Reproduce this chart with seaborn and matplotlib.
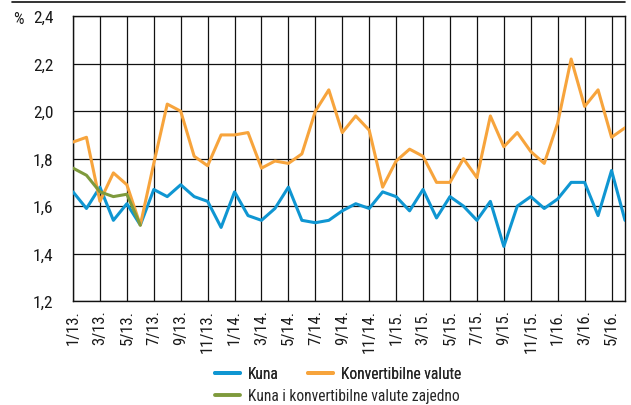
import numpy as np
import pandas as pd
import matplotlib
matplotlib.use("Agg")
import matplotlib.pyplot as plt
from matplotlib.lines import Line2D
from matplotlib import font_manager
import seaborn as sns

# Monthly series, January 2013 - June 2016
months = [f"{m}/{y}." for y in (13, 14, 15, 16) for m in range(1, 13)][:42]

kuna = [1.66, 1.59, 1.68, 1.54, 1.61, 1.52, 1.67, 1.64, 1.69, 1.64,
        1.62, 1.51, 1.66, 1.56, 1.54, 1.59, 1.68, 1.54, 1.53, 1.54,
        1.58, 1.61, 1.59, 1.66, 1.64, 1.58, 1.67, 1.55, 1.64, 1.60,
        1.54, 1.62, 1.43, 1.60, 1.64, 1.59, 1.63, 1.70, 1.70, 1.56,
        1.75, 1.54]

konvertibilne = [1.87, 1.89, 1.62, 1.74, 1.69, 1.52, 1.78, 2.03, 2.00, 1.81,
                 1.77, 1.90, 1.90, 1.91, 1.76, 1.79, 1.78, 1.82, 2.00, 2.09,
                 1.91, 1.98, 1.92, 1.68, 1.79, 1.84, 1.81, 1.70, 1.70, 1.80,
                 1.72, 1.98, 1.85, 1.91, 1.83, 1.78, 1.95, 2.22, 2.02, 2.09,
                 1.89, 1.93]

zajedno = [1.76, 1.73, 1.66, 1.64, 1.65, 1.52]

series_names = ["Kuna", "Konvertibilne valute", "Kuna i konvertibilne valute zajedno"]
palette = ["#0f96d2", "#f7a43c", "#7e9a3c"]

y_ticks = [1.2, 1.4, 1.6, 1.8, 2.0, 2.2, 2.4]

frames = []
for name, vals in zip(series_names, [kuna, konvertibilne, zajedno]):
    frames.append(pd.DataFrame({"idx": np.arange(len(vals)), "value": vals, "serija": name}))
df = pd.concat(frames, ignore_index=True)

sns.set_theme(style="white")

# prefer a narrow sans face when one is available
available = {f.name for f in font_manager.fontManager.ttflist}
narrow = [n for n in ("Liberation Sans Narrow", "DejaVu Sans Condensed", "Roboto Condensed")
          if n in available]
plt.rcParams["font.family"] = narrow + ["Liberation Sans", "DejaVu Sans"]

fig = plt.figure(figsize=(6.31, 4.06), dpi=100)
ax = fig.add_axes([73 / 631, 1 - 302 / 406, 552 / 631, 284.7 / 406])

sns.lineplot(data=df, x="idx", y="value", hue="serija", hue_order=series_names,
             palette=palette, linewidth=2.2, ax=ax, legend=False, zorder=3)

ax.set_xlim(0, len(months) - 1)
ax.set_ylim(1.2, 2.4)
ax.set_xticks(np.arange(0, len(months), 2))
ax.set_xticklabels(months[::2], rotation=90, va="top", ha="center", fontsize=12)
ax.set_yticks(y_ticks)
ax.set_yticklabels([f"{v:.1f}".replace(".", ",") for v in y_ticks], fontsize=12.5)
ax.tick_params(axis="both", length=0, pad=6, colors="#1a1a1a")
ax.tick_params(axis="y", pad=14)
ax.set_xlabel("")
ax.set_ylabel("")
ax.grid(True, color="#111111", linewidth=0.9, zorder=1)
for s in ax.spines.values():
    s.set_color("#111111")
    s.set_linewidth(1.0)

fig.text(18 / 631, 1 - 19 / 406, "%", fontsize=12, ha="center", va="center", color="#1a1a1a")
fig.add_artist(Line2D([12 / 631, 625 / 631], [1 - 3 / 406, 1 - 3 / 406],
                      color="#111111", linewidth=1.2))

handles = [Line2D([], [], color=c, linewidth=2.8) for c in palette]
leg1 = fig.legend(handles[:2], series_names[:2], loc="center left",
                  bbox_to_anchor=(215 / 631, 1 - 375 / 406), ncol=2, frameon=False,
                  fontsize=11.2, handlelength=1.6, handletextpad=0.5, columnspacing=1.9,
                  borderpad=0, borderaxespad=0)
leg2 = fig.legend(handles[2:], series_names[2:], loc="center left",
                  bbox_to_anchor=(215 / 631, 1 - 397 / 406), frameon=False,
                  fontsize=11.2, handlelength=1.6, handletextpad=0.5,
                  borderpad=0, borderaxespad=0)
fig.add_artist(leg1)

fig.savefig("out.png", dpi=100)
